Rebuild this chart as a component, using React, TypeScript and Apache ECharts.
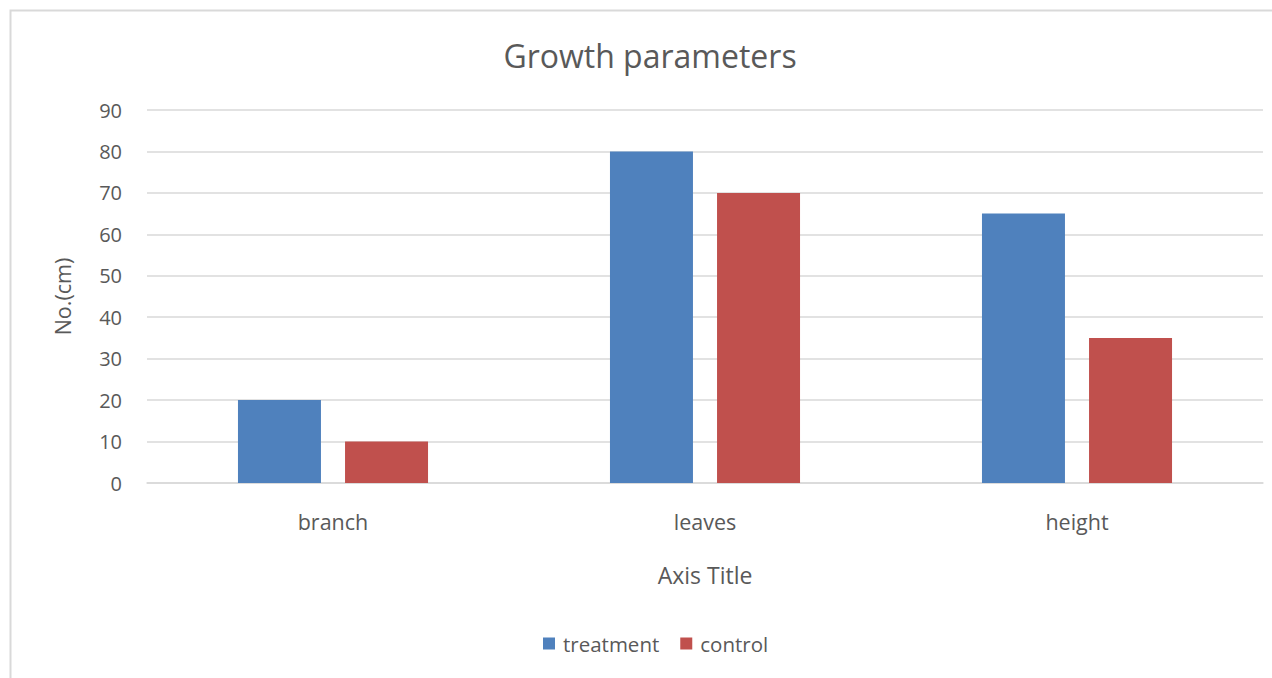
import React, { useEffect, useRef } from "react";
import * as echarts from "echarts";

const categories = ["branch", "leaves", "height"];
const treatment = [20, 80, 65];
const control = [10, 70, 35];
const seriesNames = ["treatment", "control"];
const chartTitle = "Growth parameters";
const xAxisTitle = "Axis Title";
const yAxisTitle = "No.(cm)";

const FONT = "'Open Sans', Lato, sans-serif";
const TEXT = "#595959";

export default function App() {
  const ref = useRef<HTMLDivElement>(null);
  useEffect(() => {
    if (!ref.current) return;
    const chart = echarts.init(ref.current, null, { renderer: "svg" });
    chart.setOption({
      animation: false,
      backgroundColor: "#ffffff",
      textStyle: { fontFamily: FONT },
      graphic: [
        {
          type: "rect",
          shape: { x: 10.5, y: 10.5, width: 1400, height: 800 },
          style: { fill: "none", stroke: "#d9d9d9", lineWidth: 2 },
          silent: true,
        },
        {
          type: "text",
          x: 650,
          y: 55,
          style: {
            text: chartTitle,
            fill: TEXT,
            font: `32px ${FONT}`,
            textAlign: "center",
            textVerticalAlign: "middle",
          },
        },
      ],
      legend: {
        data: seriesNames,
        left: 538,
        top: 628,
        itemWidth: 12,
        itemHeight: 12,
        itemGap: 21,
        icon: "rect",
        textStyle: { color: TEXT, fontSize: 20.5, fontFamily: FONT, padding: [0, 0, 0, 3] },
      },
      grid: { left: 147, right: 9, top: 110, bottom: 195, containLabel: false },
      xAxis: {
        type: "category",
        data: categories,
        name: xAxisTitle,
        nameLocation: "middle",
        nameGap: 80,
        nameTextStyle: { color: TEXT, fontSize: 23, fontFamily: FONT },
        axisLine: { lineStyle: { color: "#d9d9d9", width: 1.5 } },
        axisTick: { show: false },
        axisLabel: { color: TEXT, fontSize: 21.5, margin: 27, fontFamily: FONT },
      },
      yAxis: {
        type: "value",
        min: 0,
        max: 90,
        interval: 10,
        name: yAxisTitle,
        nameLocation: "middle",
        nameRotate: 90,
        nameGap: 74,
        nameTextStyle: { color: TEXT, fontSize: 21.5, fontFamily: FONT },
        axisLine: { show: false },
        axisTick: { show: false },
        axisLabel: { color: TEXT, fontSize: 20, margin: 25, fontFamily: FONT },
        splitLine: { lineStyle: { color: "#d9d9d9", width: 1.5 } },
      },
      series: [
        {
          name: seriesNames[0],
          type: "bar",
          data: treatment,
          barWidth: 83,
          barGap: "29%",
          itemStyle: { color: "#4F81BD" },
        },
        {
          name: seriesNames[1],
          type: "bar",
          data: control,
          barWidth: 83,
          barGap: "29%",
          itemStyle: { color: "#C0504D" },
        },
      ],
    });
    return () => chart.dispose();
  }, []);
  return (
    <div
      ref={ref}
      style={{ position: "absolute", left: 0, top: 0, width: 1272, height: 678 }}
    />
  );
}
